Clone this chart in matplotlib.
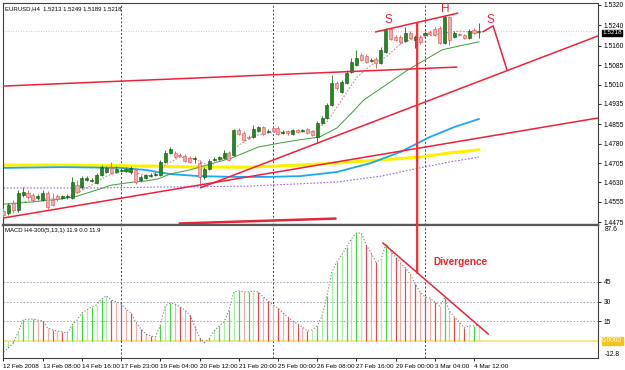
import matplotlib.pyplot as plt
import numpy as np
from matplotlib.patches import ConnectionPatch
from matplotlib.transforms import blended_transform_factory

plt.rcParams['font.family'] = ['Liberation Sans', 'DejaVu Sans']

# EURUSD H4 candles
opens = [1.4518, 1.4510, 1.4549, 1.4522, 1.4580, 1.4588, 1.4580, 1.4569, 1.4561, 1.4588,
         1.4561, 1.4577, 1.4569, 1.4573, 1.4569, 1.4619, 1.4612, 1.4639, 1.4635, 1.4627,
         1.4658, 1.4670, 1.4686, 1.4670, 1.4674, 1.4674, 1.4670, 1.4678, 1.4639, 1.4647,
         1.4654, 1.4658, 1.4658, 1.4709, 1.4744, 1.4744, 1.4736, 1.4732, 1.4724, 1.4721,
         1.4705, 1.4651, 1.4682, 1.4717, 1.4721, 1.4724, 1.4744, 1.4736, 1.4833, 1.4822,
         1.4806, 1.4806, 1.4829, 1.4845, 1.4826, 1.4841, 1.4841, 1.4822, 1.4829, 1.4818,
         1.4833, 1.4829, 1.4837, 1.4829, 1.4806, 1.4861, 1.4880, 1.4931, 1.5016, 1.4981,
         1.5016, 1.5059, 1.5086, 1.5125, 1.5121, 1.5102, 1.5110, 1.5094, 1.5137, 1.5226,
         1.5195, 1.5195, 1.5180, 1.5211, 1.5183, 1.5195, 1.5203, 1.5214, 1.5226, 1.5230,
         1.5172, 1.5273, 1.5195, 1.5207, 1.5203, 1.5191, 1.5222, 1.5213]
highs = [1.4530, 1.4549, 1.4561, 1.4600, 1.4612, 1.4600, 1.4588, 1.4584, 1.4600, 1.4596,
         1.4588, 1.4584, 1.4580, 1.4584, 1.4651, 1.4639, 1.4654, 1.4654, 1.4647, 1.4666,
         1.4697, 1.4693, 1.4709, 1.4693, 1.4686, 1.4689, 1.4693, 1.4686, 1.4658, 1.4662,
         1.4666, 1.4670, 1.4717, 1.4756, 1.4767, 1.4752, 1.4744, 1.4740, 1.4732, 1.4732,
         1.4717, 1.4689, 1.4721, 1.4728, 1.4732, 1.4756, 1.4752, 1.4837, 1.4841, 1.4829,
         1.4814, 1.4853, 1.4849, 1.4849, 1.4837, 1.4845, 1.4849, 1.4833, 1.4833, 1.4837,
         1.4837, 1.4837, 1.4841, 1.4833, 1.4868, 1.4888, 1.4938, 1.5047, 1.5024, 1.5028,
         1.5067, 1.5113, 1.5145, 1.5133, 1.5129, 1.5113, 1.5117, 1.5156, 1.5230, 1.5230,
         1.5203, 1.5203, 1.5234, 1.5218, 1.5203, 1.5203, 1.5218, 1.5222, 1.5234, 1.5238,
         1.5281, 1.5277, 1.5218, 1.5211, 1.5207, 1.5226, 1.5230, 1.5249]
lows = [1.4491, 1.4503, 1.4510, 1.4514, 1.4573, 1.4565, 1.4553, 1.4561, 1.4557, 1.4526,
        1.4538, 1.4557, 1.4565, 1.4565, 1.4565, 1.4588, 1.4604, 1.4635, 1.4631, 1.4623,
        1.4654, 1.4666, 1.4662, 1.4666, 1.4670, 1.4670, 1.4662, 1.4623, 1.4631, 1.4643,
        1.4651, 1.4654, 1.4654, 1.4705, 1.4740, 1.4724, 1.4728, 1.4709, 1.4705, 1.4705,
        1.4619, 1.4643, 1.4678, 1.4713, 1.4717, 1.4721, 1.4713, 1.4732, 1.4814, 1.4791,
        1.4798, 1.4802, 1.4826, 1.4814, 1.4822, 1.4826, 1.4814, 1.4818, 1.4814, 1.4814,
        1.4822, 1.4826, 1.4818, 1.4810, 1.4783, 1.4857, 1.4876, 1.4927, 1.4989, 1.4977,
        1.5012, 1.5055, 1.5082, 1.5102, 1.5094, 1.5098, 1.5074, 1.5090, 1.5133, 1.5183,
        1.5180, 1.5168, 1.5176, 1.5187, 1.5152, 1.5168, 1.5199, 1.5203, 1.5199, 1.5168,
        1.5168, 1.5164, 1.5191, 1.5199, 1.5187, 1.5187, 1.5207, 1.5189]
closes = [1.4503, 1.4542, 1.4522, 1.4588, 1.4592, 1.4573, 1.4561, 1.4577, 1.4588, 1.4534,
          1.4542, 1.4565, 1.4577, 1.4577, 1.4631, 1.4592, 1.4647, 1.4647, 1.4639, 1.4658,
          1.4689, 1.4686, 1.4666, 1.4682, 1.4678, 1.4682, 1.4686, 1.4631, 1.4651, 1.4658,
          1.4658, 1.4662, 1.4709, 1.4744, 1.4759, 1.4728, 1.4732, 1.4713, 1.4709, 1.4724,
          1.4651, 1.4682, 1.4713, 1.4721, 1.4728, 1.4744, 1.4717, 1.4833, 1.4818, 1.4794,
          1.4802, 1.4837, 1.4845, 1.4818, 1.4829, 1.4829, 1.4818, 1.4826, 1.4822, 1.4833,
          1.4826, 1.4833, 1.4822, 1.4814, 1.4861, 1.4880, 1.4931, 1.5016, 1.4997, 1.5020,
          1.5055, 1.5098, 1.5113, 1.5106, 1.5098, 1.5106, 1.5094, 1.5145, 1.5222, 1.5187,
          1.5183, 1.5176, 1.5211, 1.5191, 1.5195, 1.5176, 1.5211, 1.5207, 1.5203, 1.5172,
          1.5273, 1.5183, 1.5211, 1.5203, 1.5191, 1.5218, 1.5211, 1.5218]

# moving averages, sampled along the drawn lines (bar index, price)
fast_ma_idx = [1, 6, 9, 12, 15, 18, 21, 24, 27, 30, 33, 36, 39, 42, 45, 48, 51, 54, 57, 60,
               63, 66, 69, 72, 75, 78, 81, 84, 87, 90, 93, 97]
fast_ma = [1.4542, 1.4561, 1.4565, 1.4565, 1.4588, 1.4619, 1.4654, 1.4674, 1.4666, 1.4654,
           1.4697, 1.4728, 1.4721, 1.4693, 1.4724, 1.4775, 1.4810, 1.4822, 1.4826, 1.4826,
           1.4826, 1.4864, 1.4950, 1.5036, 1.5086, 1.5117, 1.5168, 1.5191, 1.5199, 1.5211,
           1.5218, 1.5211]
mid_ma_idx = [0, 5.5, 11.5, 14.5, 19, 22, 26.5, 29, 31.5, 34, 38, 42, 46.5, 52, 56.5, 60,
              64.5, 68, 71, 73.5, 78, 82.5, 86, 89.5, 93, 97]
mid_ma = [1.4545, 1.4553, 1.4565, 1.4573, 1.4600, 1.4619, 1.4631, 1.4635, 1.4643, 1.4662,
          1.4678, 1.4700, 1.4724, 1.4767, 1.4783, 1.4794, 1.4806, 1.4841, 1.4899, 1.4950,
          1.5008, 1.5067, 1.5106, 1.5145, 1.5160, 1.5176]
yellow_ma_idx = [0, 12, 30, 40, 50, 60.5, 68, 77, 85, 91, 97]
yellow_ma = [1.4697, 1.4697, 1.4693, 1.4689, 1.4689, 1.4697, 1.4705, 1.4717, 1.4728, 1.4744, 1.4756]
cyan_ma_idx = [0, 12, 24, 29, 34, 40, 47, 53.5, 60.5, 68, 75, 81, 87, 92, 97]
cyan_ma = [1.4686, 1.4689, 1.4686, 1.4678, 1.4662, 1.4654, 1.4651, 1.4651, 1.4654, 1.4670,
           1.4705, 1.4748, 1.4806, 1.4845, 1.4876]
purple_ma_idx = [0, 20, 34, 50, 68, 77, 85, 91, 97]
purple_ma = [1.4608, 1.4608, 1.4612, 1.4615, 1.4631, 1.4654, 1.4686, 1.4709, 1.4728]

# MACD H4-300(5,13,1) histogram
macd = [-8.4, -5.3, -1.5, 6.9, 16.0, 16.8, 16.8, 16.0, 15.3, 9.9,
        8.4, 7.6, 6.9, 6.1, 12.2, 16.0, 21.4, 23.7, 26.0, 27.5,
        32.1, 34.4, 31.3, 29.8, 28.2, 24.4, 21.4, 14.5, 9.2, 5.3,
        3.8, 3.1, 12.2, 26.7, 29.0, 28.2, 26.0, 23.7, 19.8, 11.5,
        2.5, -1.2, 2.0, 7.6, 11.5, 14.5, 23.7, 37.4, 38.2, 37.4,
        37.4, 38.2, 37.4, 33.6, 30.5, 27.5, 25.2, 21.4, 18.3, 15.3,
        13.0, 10.7, 7.6, 8.4, 11.5, 19.1, 34.4, 52.7, 60.3, 65.6,
        71.8, 77.9, 82.4, 82.4, 73.3, 67.2, 60.3, 61.8, 74.0, 68.7,
        64.1, 59.5, 55.7, 51.1, 43.5, 37.4, 33.6, 32.8, 29.8, 26.7,
        32.8, 22.9, 18.3, 14.5, 9.9, 11.5, 11.5, 11.9]

time_labels = ['12 Feb 2008', '13 Feb 08:00', '14 Feb 16:00', '17 Feb 23:00', '19 Feb 04:00',
               '20 Feb 12:00', '21 Feb 20:00', '25 Feb 00:00', '26 Feb 08:00', '27 Feb 16:00',
               '29 Feb 00:00', '3 Mar 04:00', '4 Mar 12:00']
time_label_idx = list(range(0, 97, 8))
week_starts = [24, 55, 86]
price_ticks = [1.5320, 1.5240, 1.5160, 1.5085, 1.5010, 1.4935, 1.4855, 1.4780, 1.4705,
               1.4630, 1.4555, 1.4475]
macd_levels = [45, 30, 15]

# hand-drawn objects: (bar index list, price list)
trend_lines = [
    ([-0.1, 92.6], [1.5004, 1.5078]),
    ([-0.1, 121.3], [1.4491, 1.4880]),
    ([40.1, 121.3], [1.4608, 1.5199]),
    ([75.8, 92.8], [1.5214, 1.5288]),
    ([97.7, 99.9, 102.8], [1.5214, 1.5238, 1.5063]),
]
base_line = ([36.0, 67.7], [1.4470, 1.4489])
hs_labels = [('S', 78.5, 1.5261), ('H', 90.1, 1.5304), ('S', 99.3, 1.5261)]
macd_div_line = ([77.4, 98.9], [74.8, 5.3])
target_idx, target_top, target_macd = 84.4, 1.5249, 51.9

W, H = 625, 370
fig = plt.figure(figsize=(W / 100, H / 100), dpi=100)
ax = fig.add_axes([3 / W, 1 - 225 / H, 595 / W, 222 / H])
axm = fig.add_axes([3 / W, 1 - 358 / H, 595 / W, 133 / H], sharex=ax)

RED = '#f0203a'
idx = np.arange(len(closes))
o, h, l, c = map(np.array, (opens, highs, lows, closes))
up = c >= o

# candles
ax.vlines(idx[up], l[up], h[up], color='#2a8a2a', lw=0.7, zorder=3)
ax.vlines(idx[~up], l[~up], h[~up], color='#e06a6a', lw=0.7, zorder=3)
body = np.maximum(np.abs(c - o), 0.00005)
ax.bar(idx[up], body[up], bottom=o[up], width=0.62, color='#208a20', edgecolor='#105010', lw=0.4, zorder=4)
ax.bar(idx[~up], body[~up], bottom=c[~up], width=0.62, color='#f6a8a8', edgecolor='#e05050', lw=0.4, zorder=4)

# moving averages
ax.plot(yellow_ma_idx, yellow_ma, color='#fff000', lw=2.2, zorder=2)
ax.plot(cyan_ma_idx, cyan_ma, color='#1aa8f0', lw=1.3, zorder=2)
ax.plot(purple_ma_idx, purple_ma, color='#9966e6', lw=0.8, ls=(0, (1.5, 1.5)), zorder=2)
ax.plot(mid_ma_idx, mid_ma, color='#3c9c3c', lw=0.7, zorder=2)
ax.plot(fast_ma_idx, fast_ma, color='#c89090', lw=0.8, ls=(0, (1.5, 1.5)), zorder=2)

# bid line
ax.axhline(closes[-1], color='#b8b8b8', lw=0.6, ls=(0, (1, 2)), zorder=1)

# trend lines & labels
for xs, ys in trend_lines:
    ax.plot(xs, ys, color=RED, lw=1.1, zorder=5, solid_capstyle='butt')
ax.plot(*base_line, color='#e0283a', lw=1.8, zorder=5, clip_on=False)
for txt, xi, yi in hs_labels:
    ax.text(xi, yi, txt, color=RED, fontsize=8.5, ha='center', va='center', zorder=6)

# MACD histogram
mv = np.array(macd)
cols = []
for i, v in enumerate(mv):
    rising = i == 0 or v >= mv[i - 1]
    if rising:
        cols.append('#3ae03a' if i % 2 == 0 else '#a8f2a8')
    else:
        cols.append('#f04848' if i % 2 == 0 else '#f6aaaa')
axm.axhline(0, color='#fde58a', lw=1.4, zorder=1)
for lvl in macd_levels:
    axm.axhline(lvl, color='#9a9aae', lw=0.6, ls=(0, (2, 2)), zorder=1)
axm.vlines(idx, 0, mv, colors=cols, lw=0.9, zorder=2)
axm.plot(idx, mv, color='#707070', lw=0.7, ls=(0, (1.2, 2)), zorder=3)
axm.plot(*macd_div_line, color=RED, lw=1.1, zorder=5)
axm.text(93.2, 60.3, 'Divergence', color='#ee2222', fontsize=7.2, fontweight='bold',
         ha='center', va='center', zorder=6)

# week separators
for a in (ax, axm):
    for w in week_starts:
        a.axvline(w, color='#404040', lw=0.7, ls=(0, (2, 2)), zorder=1)

# projection line across both panels
con = ConnectionPatch(xyA=(target_idx, target_top), coordsA=ax.transData,
                      xyB=(target_idx, target_macd), coordsB=axm.transData,
                      color='#ff2a2a', lw=1.6, zorder=10)
fig.add_artist(con)

# axes cosmetics
ax.set_xlim(-0.1, 121.3)
ax.set_ylim(1.4464, 1.5327)
axm.set_ylim(-13.0, 88.5)

for a in (ax, axm):
    a.yaxis.tick_right()
    for s in a.spines.values():
        s.set_color('#404040')
        s.set_linewidth(0.8)
ax.spines['bottom'].set_linewidth(1.6)
ax.spines['bottom'].set_color('#585858')
axm.spines['top'].set_linewidth(1.6)
axm.spines['top'].set_color('#585858')

ax.set_yticks(price_ticks)
ax.set_yticklabels(['%.4f' % p for p in price_ticks])
ax.tick_params(axis='y', labelsize=4.8, length=2.5, width=0.6, pad=1.5)
ax.tick_params(axis='x', bottom=False, labelbottom=False)

axm.set_yticks(macd_levels)
axm.set_yticklabels([str(v) for v in macd_levels])
axm.tick_params(axis='y', labelsize=4.8, length=2.5, width=0.6, pad=1.5)
axm.set_xticks(time_label_idx)
axm.set_xticklabels(time_labels, ha='left')
axm.tick_params(axis='x', labelsize=4.6, length=2.5, width=0.6, pad=1.5)

ybl = blended_transform_factory(axm.transAxes, axm.transData)
axm.text(1.012, 88.0, str(87.6), transform=ybl, fontsize=4.8, va='top', ha='left')
axm.text(1.012, -13.0, '-12.8', transform=ybl, fontsize=4.8, va='bottom', ha='left')
axm.annotate('0.0000', xy=(1, 0), xycoords=('axes fraction', 'data'), xytext=(3, 0),
             textcoords='offset points', fontsize=4.8, color='white', va='center', ha='left',
             bbox=dict(boxstyle='square,pad=0.1', fc='#f2c419', ec='#f2c419'))
ax.annotate('%.4f' % closes[-1], xy=(1, closes[-1]), xycoords=('axes fraction', 'data'),
            xytext=(3, -1.3), textcoords='offset points', fontsize=4.6, color='white',
            va='center', ha='left', bbox=dict(boxstyle='square,pad=0.1', fc='black', ec='black'))

ax.text(0.004, 0.985, 'EURUSD,H4  %.4f %.4f %.4f %.4f' % (opens[-1], highs[-1], lows[-1], closes[-1]),
        transform=ax.transAxes, fontsize=4.3, va='top', ha='left')
axm.text(0.004, 0.975, 'MACD H4-300(5,13,1) %.1f 0.0 %.1f' % (macd[-1], macd[-1]),
         transform=axm.transAxes, fontsize=4.3, va='top', ha='left')

fig.savefig('out.png', dpi=100)
